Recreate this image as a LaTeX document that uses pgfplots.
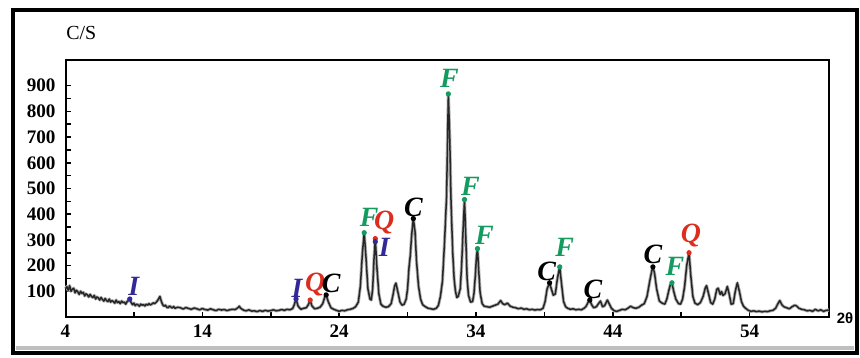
\documentclass[border=0pt]{standalone}
\usepackage{pgfplots}
\pgfplotsset{compat=1.18}
\usepackage{fontspec}
\setmainfont{Liberation Serif}
\newfontfamily\labsans{Liberation Sans}

\definecolor{phF}{RGB}{20,155,95}
\definecolor{phQ}{RGB}{220,45,30}
\definecolor{phI}{RGB}{50,40,150}
\definecolor{phC}{RGB}{0,0,0}

% diffractogram: 2theta (deg) vs counts per second
\pgfplotstableread{
x y
4.0 110
4.1 118
4.2 104
4.3 122
4.4 100
4.5 108
4.6 112
4.7 94
4.8 104
4.9 98
5.0 88
5.1 100
5.2 92
5.3 96
5.4 82
5.5 90
5.6 86
5.7 78
5.8 88
5.9 80
6.0 76
6.1 84
6.2 70
6.3 78
6.4 74
6.5 66
6.6 76
6.7 68
6.8 62
6.9 72
7.0 64
7.1 60
7.2 70
7.3 58
7.4 64
7.5 60
7.6 54
7.7 66
7.8 56
7.9 60
8.0 52
8.1 62
8.2 56
8.3 58
8.4 50
8.5 60
8.6 64
8.7 70
8.8 56
8.9 48
9.0 54
9.1 44
9.2 50
9.3 47
9.4 42
9.5 50
9.6 46
9.7 48
9.8 43
9.9 50
10.0 46
10.1 52
10.2 47
10.3 50
10.4 55
10.5 52
10.6 56
10.7 62
10.8 70
10.9 80
11.0 62
11.1 48
11.2 42
11.3 46
11.4 38
11.5 36
11.6 43
11.7 39
11.8 35
11.9 41
12.0 34
12.2 38
12.4 36
12.6 31
12.8 37
13.0 33
13.2 30
13.4 35
13.6 32
13.8 28
14.0 33
14.2 29
14.4 27
14.6 32
14.8 28
15.0 25
15.2 30
15.4 27
15.6 29
15.8 25
16.0 28
16.2 30
16.4 29
16.6 36
16.7 42
16.8 34
17.0 27
17.2 24
17.4 28
17.6 23
17.8 24
18.0 21
18.2 25
18.4 22
18.6 26
18.8 23
19.0 25
19.2 28
19.4 24
19.6 26
19.8 29
20.0 26
20.2 30
20.4 28
20.6 33
20.7 45
20.85 70
21.0 42
21.2 30
21.4 34
21.6 36
21.75 48
21.88 66
22.0 44
22.2 32
22.4 34
22.6 38
22.8 52
22.95 78
23.05 86
23.2 60
23.4 36
23.6 30
23.8 26
24.0 22
24.2 26
24.4 24
24.6 28
24.8 30
25.0 33
25.2 40
25.4 58
25.55 120
25.7 250
25.83 328
25.95 240
26.1 110
26.25 70
26.35 66
26.45 110
26.55 230
26.64 305
26.75 200
26.9 90
27.05 50
27.2 42
27.4 38
27.6 40
27.8 52
27.95 90
28.05 120
28.15 132
28.3 95
28.45 58
28.6 46
28.75 50
28.9 70
29.0 110
29.1 190
29.2 240
29.3 320
29.42 383
29.55 330
29.65 220
29.8 120
29.95 70
30.1 48
30.3 40
30.5 34
30.7 32
30.9 30
31.1 34
31.25 45
31.4 80
31.55 140
31.7 290
31.85 470
31.98 868
32.08 700
32.18 440
32.3 250
32.4 150
32.5 100
32.6 76
32.7 80
32.85 110
32.95 200
33.05 330
33.16 457
33.25 320
33.35 150
33.45 85
33.6 58
33.75 60
33.85 90
33.95 160
34.03 230
34.11 266
34.2 180
34.3 95
34.45 52
34.6 42
34.8 40
35.0 38
35.2 42
35.4 46
35.6 50
35.8 64
35.95 52
36.1 48
36.3 54
36.5 42
36.7 38
36.9 36
37.1 32
37.3 35
37.5 30
37.7 32
37.9 28
38.1 30
38.3 27
38.5 29
38.7 28
38.9 34
39.05 60
39.2 110
39.38 133
39.5 110
39.65 85
39.8 90
39.95 150
40.12 195
40.25 130
40.4 60
40.55 40
40.7 34
40.9 30
41.1 32
41.3 28
41.5 30
41.7 28
41.9 34
42.05 42
42.2 58
42.32 66
42.45 48
42.6 36
42.8 40
42.95 52
43.1 62
43.25 40
43.4 44
43.6 66
43.75 50
43.9 34
44.1 24
44.3 22
44.5 26
44.7 30
44.9 28
45.1 34
45.3 42
45.5 36
45.7 34
45.9 38
46.1 46
46.3 52
46.5 80
46.7 140
46.85 180
46.93 195
47.05 170
47.2 110
47.4 62
47.6 54
47.8 50
47.95 70
48.1 105
48.2 125
48.32 133
48.45 100
48.6 70
48.8 52
48.95 50
49.1 70
49.25 120
49.4 200
49.57 250
49.7 160
49.85 80
50.0 54
50.2 48
50.4 56
50.6 80
50.75 112
50.85 122
51.0 90
51.15 56
51.3 50
51.45 70
51.6 108
51.7 112
51.85 88
51.95 99
52.05 84
52.2 90
52.37 119
52.5 90
52.65 50
52.8 52
52.95 100
53.1 133
53.25 100
53.4 60
53.55 42
53.7 34
53.9 26
54.1 22
54.3 24
54.5 21
54.7 23
54.9 20
55.1 22
55.3 21
55.5 24
55.7 26
55.9 34
56.05 50
56.2 64
56.35 48
56.5 40
56.7 36
56.9 32
57.1 40
57.3 46
57.45 42
57.6 34
57.8 30
58.0 28
58.2 24
58.4 26
58.6 22
58.8 30
59.0 24
59.2 28
59.4 22
59.6 26
59.8 27
}\pattern

% identified reflections (peak tops)
\pgfplotstableread{
x y
25.83 328
31.98 868
33.16 457
34.11 266
40.12 195
48.32 133
}\peaksF
\pgfplotstableread{
x y
21.88 66
26.64 305
49.57 250
}\peaksQ
\pgfplotstableread{
x y
8.70 70
20.85 70
26.64 293
}\peaksI
\pgfplotstableread{
x y
23.05 86
29.42 383
39.38 133
42.32 66
46.93 195
}\peaksC

\begin{document}
\begin{tikzpicture}
\useasboundingbox (0,0) rectangle (430bp,179bp);
% outer frame with a soft inner shadow along the bottom
\draw[black!25, line width=2bp] (8bp,5bp) -- (427bp,5bp);
\draw[black, line width=2bp] (6.5bp,2.5bp) rectangle (428.5bp,174bp);

\begin{axis}[
  at={(32.75bp,20.5bp)}, anchor=south west,
  scale only axis, width=381.75bp, height=128.5bp,
  xmin=4, xmax=59.8, ymin=0, ymax=1000,
  xtick={4,14,...,54}, ytick={100,200,...,900},
  minor x tick num=1, minor y tick num=1,
  xtick pos=left, ytick pos=left,
  tick align=inside,
  major tick length=2.6bp, minor tick length=2.6bp,
  every tick/.style={black, line width=0.8bp},
  axis line style={line width=1bp},
  /pgf/number format/assume math mode=true,
  ticklabel style={font=\bfseries\fontsize{9.6}{10}\selectfont},
  yticklabel style={xshift=-1.5bp},
  xticklabel style={yshift=-0.5bp},
  clip=false,
]
% soft halo under the trace, then the trace itself
\addplot[black!30, line width=1.6bp, line join=round] table[x=x,y=y] {\pattern};
\addplot[black!85, line width=0.75bp, line join=round] table[x=x,y=y] {\pattern};

\addplot[only marks, mark=*, mark size=1.1bp, phF] table[x=x,y=y] {\peaksF};
\addplot[only marks, mark=*, mark size=1.1bp, phQ] table[x=x,y=y] {\peaksQ};
\addplot[only marks, mark=*, mark size=1.1bp, phI] table[x=x,y=y] {\peaksI};
\addplot[only marks, mark=*, mark size=1.1bp, phC] table[x=x,y=y] {\peaksC};

\tikzset{phase/.style={font=\bfseries\itshape\fontsize{14}{14}\selectfont, inner sep=0pt}}
\node[phase, phI, xshift=2bp,   yshift=6.5bp] at (axis cs:8.70,70)   {I};
\node[phase, phI, xshift=0.5bp, yshift=5.5bp] at (axis cs:20.85,70)  {I};
\node[phase, phQ, xshift=2.5bp, yshift=8bp]   at (axis cs:21.88,66)  {Q};
\node[phase, phC, xshift=2.5bp, yshift=5.5bp] at (axis cs:23.05,86)  {C};
\node[phase, phF, xshift=2.5bp, yshift=7.5bp] at (axis cs:25.83,328) {F};
\node[phase, phQ, xshift=4.5bp, yshift=8bp]   at (axis cs:26.64,305) {Q};
\node[phase, phI, xshift=4.5bp, yshift=-3bp]  at (axis cs:26.64,293) {I};
\node[phase, phC, xshift=0bp,   yshift=5.5bp] at (axis cs:29.42,383) {C};
\node[phase, phF, xshift=0.5bp, yshift=8bp]   at (axis cs:31.98,868) {F};
\node[phase, phF, xshift=3bp,   yshift=6.5bp] at (axis cs:33.16,457) {F};
\node[phase, phF, xshift=3.5bp, yshift=6.5bp] at (axis cs:34.11,266) {F};
\node[phase, phC, xshift=-1.5bp, yshift=5.5bp] at (axis cs:39.38,133) {C};
\node[phase, phF, xshift=2.5bp, yshift=10bp]  at (axis cs:40.12,195) {F};
\node[phase, phC, xshift=1.5bp, yshift=5.5bp] at (axis cs:42.32,66)  {C};
\node[phase, phC, xshift=0bp,   yshift=6bp]   at (axis cs:46.93,195) {C};
\node[phase, phF, xshift=1.5bp, yshift=8bp]   at (axis cs:48.32,133) {F};
\node[phase, phQ, xshift=1bp,   yshift=8.5bp] at (axis cs:49.57,250) {Q};
\end{axis}

% axis titles
\node[anchor=west, inner sep=0pt, font=\fontsize{10}{10}\selectfont] at (33bp,162.5bp) {C/S};
\node[inner sep=0pt, font=\labsans\bfseries\fontsize{7.5}{8}\selectfont] at (422.5bp,20bp) {2θ};
\end{tikzpicture}
\end{document}
